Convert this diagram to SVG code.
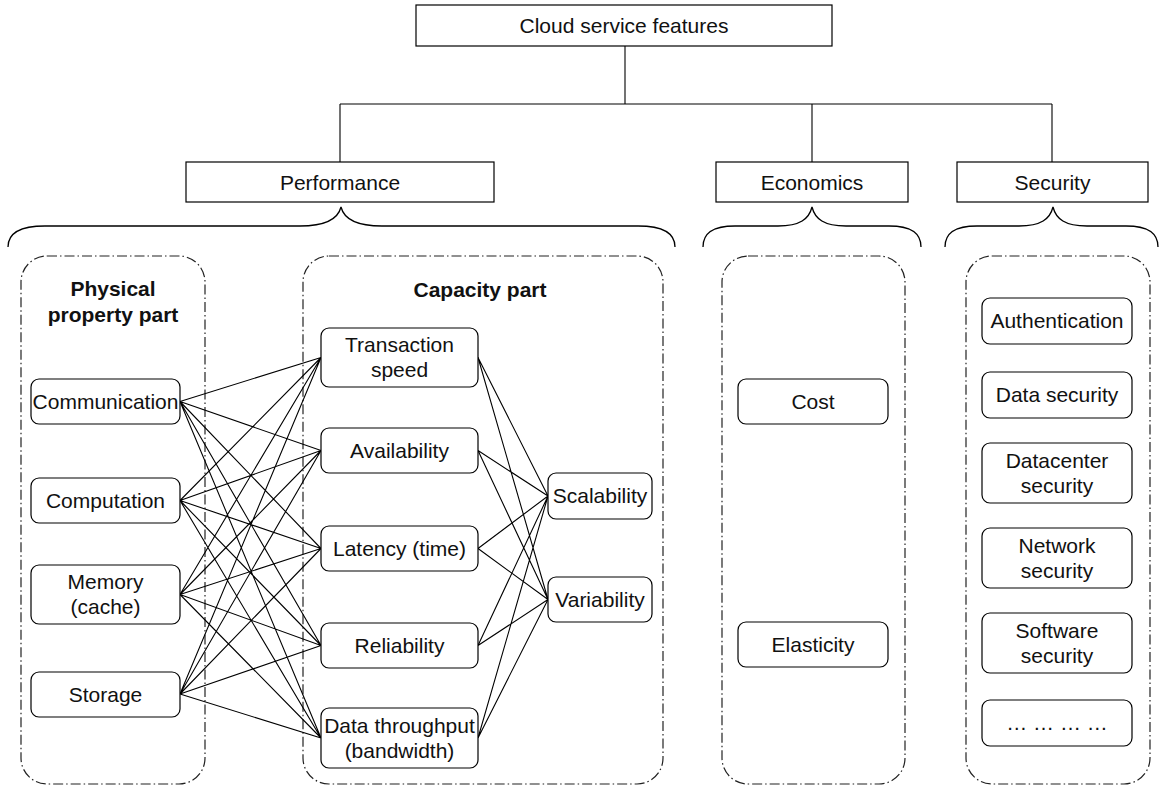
<svg xmlns="http://www.w3.org/2000/svg" width="1159" height="787" viewBox="0 0 1159 787">
  <style>
    .box { fill: #ffffff; stroke: #000000; stroke-width: 1.2; }
    .node { fill: #ffffff; stroke: #000000; stroke-width: 1.2; }
    .group { fill: none; stroke: #222222; stroke-width: 1.2; stroke-dasharray: 10 3 1.5 3; }
    .brace { fill: none; stroke: #000000; stroke-width: 1.3; }
    .wire { fill: none; stroke: #000000; stroke-width: 1.1; }
    text { font-family: "Liberation Sans", Arial, Helvetica, sans-serif; font-size: 21px; fill: #111111; text-anchor: middle; }
    .title { font-weight: bold; }
  </style>

  <rect width="1159" height="787" fill="#ffffff"/>

  <!-- dashed grouping frames -->
  <g id="frames">
    <rect id="frame-physical" class="group" x="21" y="256" width="184" height="528" rx="26"/>
    <rect id="frame-capacity" class="group" x="303" y="256" width="360" height="528" rx="26"/>
    <rect id="frame-economics" class="group" x="722" y="256" width="183" height="528" rx="26"/>
    <rect id="frame-security" class="group" x="966" y="256" width="184" height="528" rx="26"/>
  </g>

  <!-- curly braces under the category boxes -->
  <g id="braces">
    <path class="brace" d="M8 247 C8 234 18 226 45 226 L300 226 C326 226 338 219 341 207 C344 219 356 226 382 226 L638 226 C664 226 675 234 675 247"/>
    <path class="brace" d="M703 247 C703 234 711 226 735 226 L778 226 C800 226 809 219 812 207 C815 219 824 226 846 226 L889 226 C913 226 921 234 921 247"/>
    <path class="brace" d="M945 247 C945 234 953 226 977 226 L1019 226 C1041 226 1050 219 1053 207 C1056 219 1065 226 1087 226 L1126 226 C1150 226 1158 234 1158 247"/>
  </g>

  <!-- connectors -->
  <g id="connectors">
    <!-- tree -->
    <path class="wire" d="M625 46 V104 M340 104 H1052 M340 104 V162 M812 104 V162 M1052 104 V162"/>
    <!-- physical property part to capacity part -->
    <path class="wire" d="
      M180 401.5 L321 357.5 M180 401.5 L321 450.5 M180 401.5 L321 548.5 M180 401.5 L321 645.5 M180 401.5 L321 738
      M180 500.5 L321 357.5 M180 500.5 L321 450.5 M180 500.5 L321 548.5 M180 500.5 L321 645.5 M180 500.5 L321 738
      M180 594.5 L321 357.5 M180 594.5 L321 450.5 M180 594.5 L321 548.5 M180 594.5 L321 645.5 M180 594.5 L321 738
      M180 694 L321 357.5 M180 694 L321 450.5 M180 694 L321 548.5 M180 694 L321 645.5 M180 694 L321 738"/>
    <!-- capacity part to scalability / variability -->
    <path class="wire" d="
      M478 357.5 L548 496 M478 357.5 L548 599.5
      M478 450.5 L548 496 M478 450.5 L548 599.5
      M478 548.5 L548 496 M478 548.5 L548 599.5
      M478 645.5 L548 496 M478 645.5 L548 599.5
      M478 738 L548 496 M478 738 L548 599.5"/>
  </g>

  <!-- top level -->
  <g id="cloud-service-features">
    <rect class="box" x="416" y="5" width="416" height="41"/>
    <text x="624" y="33">Cloud service features</text>
  </g>
  <g id="performance">
    <rect class="box" x="186" y="162" width="308" height="40"/>
    <text x="340" y="189.5">Performance</text>
  </g>
  <g id="economics">
    <rect class="box" x="716" y="162" width="192" height="40"/>
    <text x="812" y="189.5">Economics</text>
  </g>
  <g id="security">
    <rect class="box" x="957" y="162" width="191" height="40"/>
    <text x="1052.5" y="189.5">Security</text>
  </g>

  <!-- frame titles -->
  <g id="physical-property-part-title">
    <text class="title" x="113" y="296">Physical</text>
    <text class="title" x="113" y="322">property part</text>
  </g>
  <g id="capacity-part-title">
    <text class="title" x="480" y="297">Capacity part</text>
  </g>

  <!-- physical property part -->
  <g id="communication">
    <rect class="node" x="31" y="379" width="149" height="45" rx="8"/>
    <text x="105.5" y="408.5">Communication</text>
  </g>
  <g id="computation">
    <rect class="node" x="31" y="478" width="149" height="45" rx="8"/>
    <text x="105.5" y="507.5">Computation</text>
  </g>
  <g id="memory-cache">
    <rect class="node" x="31" y="565" width="149" height="59" rx="8"/>
    <text x="105.5" y="589">Memory</text>
    <text x="105.5" y="614">(cache)</text>
  </g>
  <g id="storage">
    <rect class="node" x="31" y="672" width="149" height="45" rx="8"/>
    <text x="105.5" y="701.5">Storage</text>
  </g>

  <!-- capacity part -->
  <g id="transaction-speed">
    <rect class="node" x="321" y="328" width="157" height="59" rx="8"/>
    <text x="399.5" y="352">Transaction</text>
    <text x="399.5" y="377">speed</text>
  </g>
  <g id="availability">
    <rect class="node" x="321" y="428" width="157" height="45" rx="8"/>
    <text x="399.5" y="457.5">Availability</text>
  </g>
  <g id="latency">
    <rect class="node" x="321" y="526" width="157" height="45" rx="8"/>
    <text x="399.5" y="555.5">Latency (time)</text>
  </g>
  <g id="reliability">
    <rect class="node" x="321" y="623" width="157" height="45" rx="8"/>
    <text x="399.5" y="652.5">Reliability</text>
  </g>
  <g id="data-throughput">
    <rect class="node" x="321" y="708" width="157" height="60" rx="8"/>
    <text x="399.5" y="732.5">Data throughput</text>
    <text x="399.5" y="757.5">(bandwidth)</text>
  </g>
  <g id="scalability">
    <rect class="node" x="548" y="473" width="104" height="46" rx="8"/>
    <text x="600" y="503">Scalability</text>
  </g>
  <g id="variability">
    <rect class="node" x="548" y="577" width="104" height="45" rx="8"/>
    <text x="600" y="606.5">Variability</text>
  </g>

  <!-- economics -->
  <g id="cost">
    <rect class="node" x="738" y="379" width="150" height="45" rx="8"/>
    <text x="813" y="408.5">Cost</text>
  </g>
  <g id="elasticity">
    <rect class="node" x="738" y="622" width="150" height="45" rx="8"/>
    <text x="813" y="651.5">Elasticity</text>
  </g>

  <!-- security -->
  <g id="authentication">
    <rect class="node" x="982" y="298" width="150" height="46" rx="8"/>
    <text x="1057" y="328">Authentication</text>
  </g>
  <g id="data-security">
    <rect class="node" x="982" y="372" width="150" height="46" rx="8"/>
    <text x="1057" y="402">Data security</text>
  </g>
  <g id="datacenter-security">
    <rect class="node" x="982" y="443" width="150" height="60" rx="8"/>
    <text x="1057" y="468">Datacenter</text>
    <text x="1057" y="493">security</text>
  </g>
  <g id="network-security">
    <rect class="node" x="982" y="528" width="150" height="60" rx="8"/>
    <text x="1057" y="553">Network</text>
    <text x="1057" y="578">security</text>
  </g>
  <g id="software-security">
    <rect class="node" x="982" y="613" width="150" height="60" rx="8"/>
    <text x="1057" y="638">Software</text>
    <text x="1057" y="663">security</text>
  </g>
  <g id="more">
    <rect class="node" x="982" y="700" width="150" height="46" rx="8"/>
    <text x="1057" y="730">… … … …</text>
  </g>
</svg>
